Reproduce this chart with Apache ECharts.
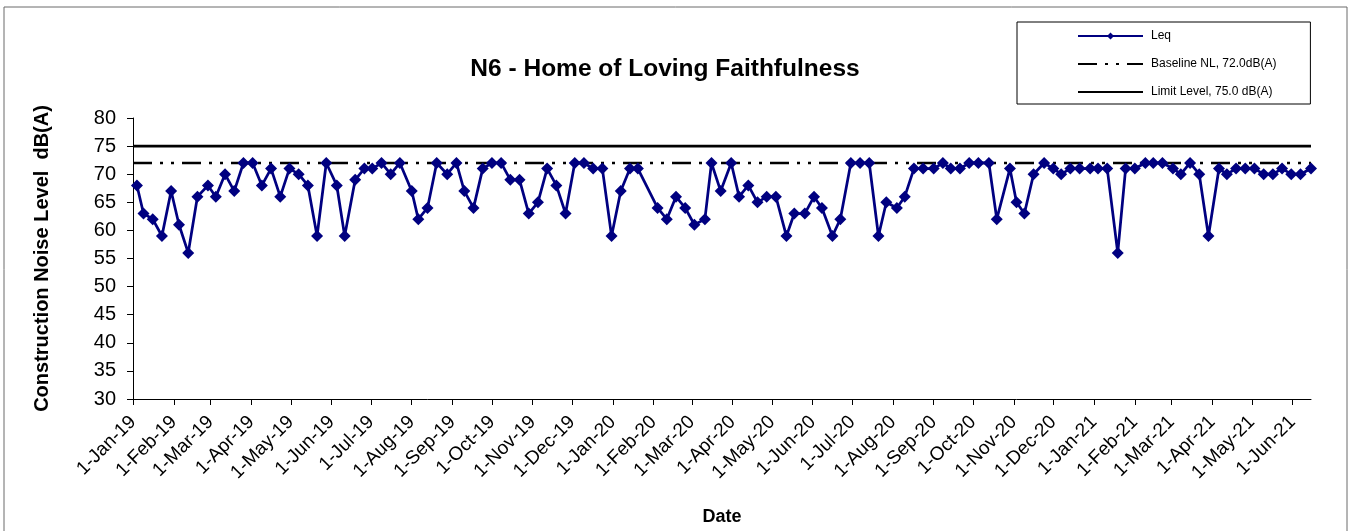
<!DOCTYPE html>
<html>
<head>
<meta charset="UTF-8">
<title>N6 - Home of Loving Faithfulness</title>
<script src="https://cdn.jsdelivr.net/npm/echarts@6/dist/echarts.min.js"></script>
<style>
  html, body { margin: 0; padding: 0; background: #fff; }
  #main { width: 1354px; height: 531px; }
</style>
</head>
<body>
<div id="main"></div>
<script>
// measurement dates (roughly weekly) and Leq readings, dB(A)
var dates = [
  '2019-01-04','2019-01-09','2019-01-16','2019-01-23','2019-01-30','2019-02-05','2019-02-12','2019-02-19',
  '2019-02-27','2019-03-05','2019-03-12','2019-03-19','2019-03-26','2019-04-02','2019-04-09','2019-04-16',
  '2019-04-23','2019-04-30','2019-05-07','2019-05-14','2019-05-21','2019-05-28','2019-06-05','2019-06-11',
  '2019-06-19','2019-06-26','2019-07-02','2019-07-09','2019-07-16','2019-07-23','2019-08-01','2019-08-06',
  '2019-08-13','2019-08-20','2019-08-28','2019-09-04','2019-09-10','2019-09-17','2019-09-24','2019-10-01',
  '2019-10-08','2019-10-15','2019-10-22','2019-10-29','2019-11-05','2019-11-12','2019-11-19','2019-11-26',
  '2019-12-03','2019-12-10','2019-12-17','2019-12-24','2019-12-31','2020-01-07','2020-01-14','2020-01-20',
  '2020-02-04','2020-02-11','2020-02-18','2020-02-25','2020-03-03','2020-03-11','2020-03-16','2020-03-23',
  '2020-03-31','2020-04-06','2020-04-13','2020-04-20','2020-04-27','2020-05-04','2020-05-12','2020-05-18',
  '2020-05-26','2020-06-02','2020-06-08','2020-06-16','2020-06-22','2020-06-30','2020-07-07','2020-07-14',
  '2020-07-21','2020-07-27','2020-08-04','2020-08-10','2020-08-17','2020-08-24','2020-09-01','2020-09-08',
  '2020-09-14','2020-09-21','2020-09-28','2020-10-05','2020-10-13','2020-10-19','2020-10-29','2020-11-03',
  '2020-11-09','2020-11-16','2020-11-24','2020-12-01','2020-12-07','2020-12-14','2020-12-21','2020-12-29',
  '2021-01-04','2021-01-11','2021-01-19','2021-01-25','2021-02-01','2021-02-09','2021-02-15','2021-02-22',
  '2021-03-02','2021-03-08','2021-03-15','2021-03-22','2021-03-29','2021-04-06','2021-04-12','2021-04-19',
  '2021-04-26','2021-05-03','2021-05-10','2021-05-17','2021-05-24','2021-05-31','2021-06-07','2021-06-15'
];
var leq = [
  68,63,62,59,67,61,56,66,
  68,66,70,67,72,72,68,71,
  66,71,70,68,59,72,68,59,
  69,71,71,72,70,72,67,62,
  64,72,70,72,67,64,71,72,
  72,69,69,63,65,71,68,63,
  72,72,71,71,59,67,71,71,
  64,62,66,64,61,62,72,67,
  72,66,68,65,66,66,59,63,
  63,66,64,59,62,72,72,72,
  59,65,64,66,71,71,71,72,
  71,71,72,72,72,62,71,65,
  63,70,72,71,70,71,71,71,
  71,71,56,71,71,72,72,72,
  71,70,72,70,59,71,70,71,
  71,71,70,70,71,70,70,71
];
var baselineNL = 72.0;
var limitLevel = 75.0;
var axisStart = '2019-01-01';
var axisEnd = '2021-06-15';
var monthNames = ['Jan','Feb','Mar','Apr','May','Jun','Jul','Aug','Sep','Oct','Nov','Dec'];

var font = 'Liberation Sans, Arial, sans-serif';
var chart = echarts.init(document.getElementById('main'));

var leqData = dates.map(function (d, i) { return [d, leq[i]]; });

// legend samples drawn as small paths (line + diamond, dash-dot-dot, solid)
var iconLeq = 'path://M0,5.9H65V8.1H0Z M32.5,3.5L36,7L32.5,10.5L29,7Z';
var iconBase = 'path://M0,6H19V8H0Z M27,6H30V8H27Z M38,6H41V8H38Z M49,6H65V8H49Z';
var iconLimit = 'path://M0,6H65V8H0Z';

var option = {
  backgroundColor: '#fff',
  animation: false,
  graphic: [{
    type: 'rect',
    shape: { x: 4, y: 7, width: 1343, height: 540 },
    style: { fill: 'none', stroke: '#6b6b6b', lineWidth: 1 },
    silent: true
  }],
  title: {
    text: 'N6 - Home of Loving Faithfulness',
    left: 660,
    top: 52,
    textAlign: 'center',
    textStyle: { fontFamily: font, fontSize: 24.5, fontWeight: 'bold', color: '#000' }
  },
  legend: {
    orient: 'vertical',
    left: 1017,
    top: 22,
    padding: [8, 34, 6, 61],
    borderColor: '#000',
    borderWidth: 1,
    itemWidth: 65,
    itemHeight: 14,
    itemGap: 16,
    textStyle: { fontFamily: font, fontSize: 12, color: '#000', padding: [0, 0, 0, 3] },
    data: [
      { name: 'Leq', icon: iconLeq },
      { name: 'Baseline NL, 72.0dB(A)', icon: iconBase },
      { name: 'Limit Level, 75.0 dB(A)', icon: iconLimit }
    ]
  },
  grid: { left: 133, right: 43, top: 118, bottom: 131 },
  xAxis: {
    type: 'time',
    min: axisStart,
    max: axisEnd,
    minInterval: 28 * 86400000,
    maxInterval: 31 * 86400000,
    name: 'Date',
    nameLocation: 'middle',
    nameGap: 109,
    nameTextStyle: { fontFamily: font, fontSize: 18, fontWeight: 'bold', color: '#000' },
    axisLine: { lineStyle: { color: '#000', width: 1 } },
    axisTick: { show: true, length: 6, lineStyle: { color: '#000' } },
    splitLine: { show: false },
    axisLabel: {
      rotate: 45,
      margin: 20,
      fontFamily: font,
      fontSize: 19,
      color: '#000',
      formatter: function (v) {
        var d = new Date(v);
        return d.getDate() + '-' + monthNames[d.getMonth()] + '-' + String(d.getFullYear()).slice(2);
      }
    }
  },
  yAxis: {
    type: 'value',
    min: 30,
    max: 80,
    interval: 5,
    name: 'Construction Noise Level  dB(A)',
    nameLocation: 'middle',
    nameRotate: 90,
    nameGap: 81,
    nameTextStyle: { fontFamily: font, fontSize: 20, fontWeight: 'bold', color: '#000' },
    axisLine: { show: true, lineStyle: { color: '#000', width: 1 } },
    axisTick: { show: true, length: 6, lineStyle: { color: '#000' } },
    splitLine: { show: false },
    axisLabel: { margin: 17, fontFamily: font, fontSize: 20, color: '#000' }
  },
  series: [
    {
      name: 'Leq',
      type: 'line',
      z: 4,
      data: leqData,
      symbol: 'diamond',
      symbolSize: 12,
      itemStyle: { color: '#000080' },
      lineStyle: { color: '#000080', width: 2.75 }
    },
    {
      name: 'Baseline NL, 72.0dB(A)',
      type: 'line',
      z: 2,
      symbol: 'none',
      data: [[axisStart, baselineNL], [axisEnd, baselineNL]],
      itemStyle: { color: '#000' },
      lineStyle: { color: '#000', width: 2.5, type: [19, 8, 3, 8, 3, 8] }
    },
    {
      name: 'Limit Level, 75.0 dB(A)',
      type: 'line',
      z: 2,
      symbol: 'none',
      data: [[axisStart, limitLevel], [axisEnd, limitLevel]],
      itemStyle: { color: '#000' },
      lineStyle: { color: '#000', width: 2.75 }
    }
  ]
};
chart.setOption(option);
</script>
</body>
</html>
